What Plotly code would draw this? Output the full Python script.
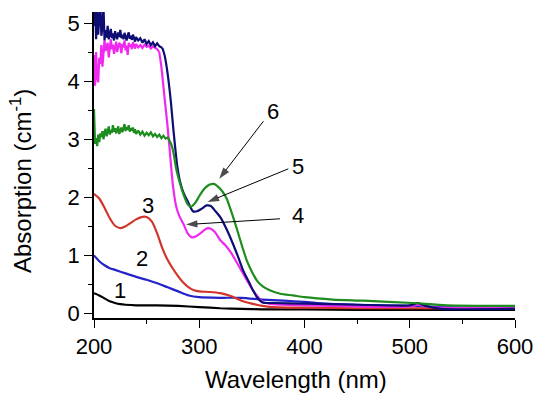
import plotly.graph_objects as go

# ---------------- data ----------------
wl1 = [200, 205, 210, 215, 220, 225, 230, 240, 260, 280, 300, 320, 340, 360, 400, 450, 500, 550, 600]
a1 = [0.35, 0.31, 0.26, 0.21, 0.18, 0.16, 0.15, 0.14, 0.14, 0.13, 0.11, 0.09, 0.08, 0.07, 0.07, 0.06, 0.06, 0.06, 0.06]

wl2 = [200, 205, 210, 215, 220, 230, 240, 250, 260, 270, 280, 290, 300, 320, 340, 360, 380, 400, 420, 450, 500, 550, 600]
a2 = [1.00, 0.90, 0.83, 0.78, 0.75, 0.69, 0.63, 0.58, 0.52, 0.45, 0.38, 0.31, 0.28, 0.27, 0.27, 0.24, 0.22, 0.20, 0.17, 0.15, 0.13, 0.10, 0.09]

wl3 = [200, 205, 210, 215, 220, 225, 230, 235, 240, 245, 250, 255, 260, 265, 270, 275, 280, 285, 290, 295,
       300, 310, 320, 330, 340, 350, 360, 370, 400, 450, 500, 600]
a3 = [2.06, 1.98, 1.82, 1.64, 1.51, 1.47, 1.50, 1.56, 1.62, 1.66, 1.66, 1.58, 1.38, 1.12, 0.92, 0.77, 0.64, 0.53, 0.45, 0.40,
      0.38, 0.37, 0.35, 0.30, 0.22, 0.17, 0.13, 0.11, 0.10, 0.09, 0.09, 0.08]

# curve 4 (magenta): noisy plateau + smooth part
wl4_noisy = [200, 201, 202, 203, 204, 205, 206, 207, 208, 209, 210, 211, 212, 213, 214, 215, 216, 217, 218, 219,
             220, 221, 222, 223, 224, 225, 226, 227, 228, 229, 230, 231, 232, 233, 234, 235, 236, 237, 238, 239,
             240, 242, 244, 246, 248, 250, 252, 254, 256, 258, 260, 262]
a4_noisy = [4.45, 3.92, 4.50, 4.05, 3.98, 4.40, 4.30, 4.62, 4.25, 4.48, 4.70, 4.52, 4.58, 4.66, 4.41, 4.60, 4.72, 4.55, 4.63, 4.47,
            4.60, 4.68, 4.50, 4.57, 4.66, 4.62, 4.48, 4.64, 4.58, 4.70, 4.53, 4.61, 4.45, 4.66, 4.59, 4.63, 4.55, 4.67, 4.60, 4.56,
            4.64, 4.58, 4.62, 4.57, 4.63, 4.59, 4.61, 4.56, 4.60, 4.57, 4.55, 4.50]
wl4_smooth = [262, 264, 267, 270, 272, 275, 278, 281, 285, 289, 293, 297, 301, 305, 308, 311, 315, 320, 325, 330,
              335, 340, 345, 350, 355, 360, 370, 400, 450, 500, 508, 515, 530, 600]
a4_smooth = [4.50, 4.25, 3.72, 3.20, 2.80, 2.20, 1.85, 1.68, 1.54, 1.38, 1.31, 1.33, 1.38, 1.44, 1.47, 1.46, 1.40, 1.26, 1.17, 1.05,
             0.90, 0.74, 0.58, 0.43, 0.30, 0.20, 0.16, 0.14, 0.12, 0.12, 0.15, 0.12, 0.10, 0.09]

# curve 5 (navy)
wl5_noisy = [200, 201, 202, 203, 204, 205, 206, 207, 208, 209, 210, 211, 212, 213, 214, 215, 216, 217, 218, 219,
             220, 221, 222, 223, 224, 225, 226, 227, 228, 229, 230, 231, 232, 233, 234, 235, 236, 237, 238, 239,
             240, 242, 244, 246, 248, 250, 252, 254, 256, 258, 260, 262, 265]
a5_noisy = [4.95, 5.35, 4.72, 5.25, 4.80, 5.05, 5.35, 4.78, 4.92, 5.30, 4.70, 4.88, 4.75, 4.95, 4.72, 4.80, 4.90, 4.74, 4.82, 4.70,
            4.86, 4.78, 4.72, 4.84, 4.76, 4.88, 4.74, 4.80, 4.72, 4.83, 4.76, 4.70, 4.79, 4.84, 4.73, 4.78, 4.71, 4.80, 4.74, 4.68,
            4.76, 4.70, 4.74, 4.66, 4.72, 4.64, 4.69, 4.62, 4.67, 4.60, 4.65, 4.60, 4.57]
wl5_smooth = [265, 267, 269, 271, 273, 275, 277, 279, 282, 285, 289, 294, 298, 302, 307, 311, 315, 320, 326, 332,
              337, 342, 347, 351, 355, 360, 370, 400, 450, 500, 508, 515, 530, 600]
a5_smooth = [4.57, 4.45, 4.25, 3.98, 3.65, 3.25, 2.88, 2.55, 2.25, 2.08, 1.93, 1.76, 1.76, 1.80, 1.86, 1.85, 1.77, 1.66, 1.45, 1.20,
             0.97, 0.73, 0.55, 0.40, 0.28, 0.19, 0.18, 0.17, 0.15, 0.14, 0.18, 0.13, 0.08, 0.08]

# curve 6 (green)
wl6_noisy = [200, 201, 202, 203, 204, 205, 206, 207, 208, 209, 210, 211, 212, 213, 214, 215, 216, 217, 218, 219,
             220, 221, 222, 223, 224, 225, 226, 227, 228, 229, 230, 231, 232, 233, 234, 235, 236, 237, 238, 239,
             240, 242, 244, 246, 248, 250, 252, 254, 256, 258, 260, 262, 264, 266, 268, 270, 272]
a6_noisy = [3.52, 2.92, 3.02, 2.88, 3.08, 2.95, 3.10, 3.04, 3.14, 3.00, 3.12, 3.18, 3.05, 3.15, 3.22, 3.08, 3.16, 3.11, 3.24, 3.13,
            3.19, 3.10, 3.17, 3.22, 3.09, 3.15, 3.20, 3.12, 3.18, 3.26, 3.14, 3.21, 3.16, 3.24, 3.13, 3.19, 3.15, 3.20, 3.11, 3.17,
            3.09, 3.15, 3.08, 3.13, 3.06, 3.11, 3.07, 3.12, 3.05, 3.09, 3.04, 3.08, 3.02, 3.06, 3.01, 3.03, 2.97]
wl6_smooth = [272, 274, 276, 278, 282, 285, 289, 292, 296, 300, 305, 310, 314, 318, 322, 326, 330, 335, 340,
              345, 350, 355, 360, 367, 377, 389, 400, 427, 456, 503, 535, 600]
a6_smooth = [2.97, 2.88, 2.72, 2.50, 2.22, 2.05, 1.88, 1.84, 1.90, 2.02, 2.15, 2.22, 2.23, 2.18, 2.10, 1.98, 1.78, 1.50, 1.20,
             0.92, 0.72, 0.56, 0.47, 0.40, 0.34, 0.31, 0.28, 0.24, 0.22, 0.18, 0.14, 0.13]

colors = {"1": "#000000", "2": "#2323c8", "3": "#d1352b", "4": "#f028f0", "5": "#0d0d73", "6": "#1e8c1e"}

# curve number labels
label_text = ["1", "2", "3", "4", "5", "6"]
label_x = [224.7, 245.3, 251.0, 394.0, 394.0, 369.8]
label_y = [0.40, 0.94, 1.86, 1.69, 2.53, 3.48]

# arrows: tail -> head
arrow_tail_x = [376.7, 384.6, 361.0]
arrow_tail_y = [1.63, 2.49, 3.31]
arrow_head_x = [287.4, 308.0, 319.0]
arrow_head_y = [1.53, 1.92, 2.32]

x_title = "Wavelength (nm)"
y_title = "Absorption (cm<sup>-1</sup>)"

FONT = "Liberation Sans, Arial, sans-serif"

fig = go.Figure()


def add_line(x, y, c, shape):
    fig.add_trace(go.Scatter(x=x, y=y, mode="lines",
                             line=dict(color=c, width=2.2, shape=shape,
                                       **({"smoothing": 0.6} if shape == "spline" else {})),
                             showlegend=False, hoverinfo="skip"))


add_line(wl1, a1, colors["1"], "spline")
add_line(wl2, a2, colors["2"], "spline")
add_line(wl3, a3, colors["3"], "spline")
add_line(wl4_noisy, a4_noisy, colors["4"], "linear")
add_line(wl4_smooth, a4_smooth, colors["4"], "spline")
add_line(wl5_noisy, a5_noisy, colors["5"], "linear")
add_line(wl5_smooth, a5_smooth, colors["5"], "spline")
add_line(wl6_noisy, a6_noisy, colors["6"], "linear")
add_line(wl6_smooth, a6_smooth, colors["6"], "spline")

# arrows as thin lines with an arrow marker at the head
for tx, ty, hx, hy in zip(arrow_tail_x, arrow_tail_y, arrow_head_x, arrow_head_y):
    fig.add_trace(go.Scatter(x=[tx, hx], y=[ty, hy], mode="lines+markers",
                             line=dict(color="black", width=1),
                             marker=dict(symbol="arrow", angleref="previous", size=[0, 12],
                                         color="black", line=dict(width=0)),
                             showlegend=False, hoverinfo="skip", cliponaxis=False))

for t, x, y in zip(label_text, label_x, label_y):
    fig.add_annotation(x=x, y=y, text=t, showarrow=False,
                       font=dict(family=FONT, size=22, color="black"),
                       xanchor="center", yanchor="middle")

# axis titles placed to match the reference
fig.add_annotation(x=0.4798, y=-0.2026, xref="paper", yref="paper", text=x_title, showarrow=False,
                   font=dict(family=FONT, size=24, color="black"), xanchor="center", yanchor="middle")
fig.add_annotation(x=-0.1734, y=0.4477, xref="paper", yref="paper", text=y_title, showarrow=False,
                   textangle=-90, font=dict(family=FONT, size=24, color="black"),
                   xanchor="center", yanchor="middle")

axis_common = dict(
    showline=True, linecolor="black", linewidth=1.6, mirror=False,
    showgrid=False, zeroline=False, automargin=False,
    ticks="outside", ticklen=8, tickwidth=1.4, tickcolor="black",
    tickfont=dict(family=FONT, size=22, color="black"),
)

fig.update_layout(
    width=541, height=394, autosize=False,
    paper_bgcolor="white", plot_bgcolor="white",
    margin=dict(l=94, r=26, t=12, b=76, pad=0),
    xaxis=dict(range=[200, 600], tickmode="array", tickvals=[200, 300, 400, 500, 600],
               minor=dict(ticks="outside", ticklen=4, tickwidth=1.4, tickcolor="black", dtick=50,
                          tick0=200, showgrid=False),
               **axis_common),
    yaxis=dict(range=[-0.078, 5.19], tickmode="array", tickvals=[0, 1, 2, 3, 4, 5],
               minor=dict(ticks="outside", ticklen=4, tickwidth=1.4, tickcolor="black", dtick=0.5,
                          tick0=0, showgrid=False),
               **axis_common),
)

fig.write_html("out.html", config={"displayModeBar": False},
               post_script="document.body.style.margin='0';")
